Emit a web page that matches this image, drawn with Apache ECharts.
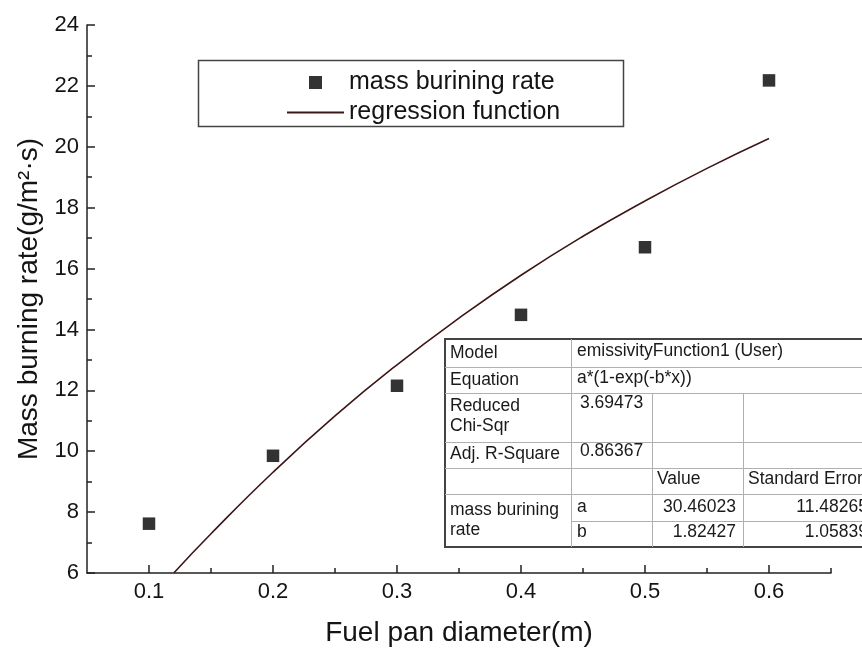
<!DOCTYPE html>
<html>
<head>
<meta charset="utf-8">
<script src="https://cdn.jsdelivr.net/npm/echarts@6/dist/echarts.min.js"></script>
<style>
html,body{margin:0;padding:0;background:#fff;}
#chart{width:862px;height:650px;}
</style>
</head>
<body>
<div id="chart"></div>
<script>
// ---- data ----
const diameters = [0.1, 0.2, 0.3, 0.4, 0.5, 0.6];
const burningRates = [7.62, 9.85, 12.15, 14.48, 16.7, 22.18];
const fitX = [0.12, 0.15, 0.2, 0.25, 0.3, 0.35, 0.4, 0.45, 0.5, 0.55, 0.6];
const fitY = [6.0, 7.29, 9.31, 11.16, 12.84, 14.37, 15.78, 17.06, 18.22, 19.29, 20.27];
const xTickValues = [0.1, 0.2, 0.3, 0.4, 0.5, 0.6];
const xMinorTickValues = [0.15, 0.25, 0.35, 0.45, 0.55, 0.65];
const seriesNames = ['mass burining rate', 'regression function'];
// fit report table text
const tableModel = ['Model', 'emissivityFunction1 (User)'];
const tableEquation = ['Equation', 'a*(1-exp(-b*x))'];
const tableChi = ['Reduced', 'Chi-Sqr', '3.69473'];
const tableR2 = ['Adj. R-Square', '0.86367'];
const tableHeader = ['Value', 'Standard Error'];
const tableParamLabel = ['mass burining', 'rate'];
const tableParams = [['a', '30.46023', '11.48265'], ['b', '1.82427', '1.05839']];

const FONT = '"Liberation Sans", Arial, Helvetica, sans-serif';
const TXT = '#141414';

// ---- table graphic ----
const TL = 445, TR = 880;
const rowsY = [339, 367, 393, 442, 468, 494, 521, 547];
const colsX = [445, 571, 652, 743];
const tf = 17.5;
function txt(t, x, y, align) {
  return { type: 'text', z: 102, style: { text: t, x: x, y: y, fill: '#1a1a1a', fontSize: tf, fontFamily: FONT, align: align || 'left', verticalAlign: 'middle' } };
}
function ln(x1, y1, x2, y2, c, w) {
  return { type: 'line', z: 101, shape: { x1: x1, y1: y1, x2: x2, y2: y2 }, style: { stroke: c || '#b0b0b0', lineWidth: w || 1 } };
}
const tableEls = [];
tableEls.push({ type: 'rect', z: 100, shape: { x: TL, y: rowsY[0], width: TR - TL, height: rowsY[7] - rowsY[0] }, style: { fill: '#fff', stroke: '#444', lineWidth: 2 } });
[1, 2, 3, 4, 5].forEach(function (i) { tableEls.push(ln(TL, rowsY[i] + 0.5, TR, rowsY[i] + 0.5)); });
tableEls.push(ln(colsX[1], rowsY[6] + 0.5, TR, rowsY[6] + 0.5));
tableEls.push(ln(colsX[1] + 0.5, rowsY[0], colsX[1] + 0.5, rowsY[7]));
tableEls.push(ln(colsX[2] + 0.5, rowsY[2], colsX[2] + 0.5, rowsY[7]));
tableEls.push(ln(colsX[3] + 0.5, rowsY[2], colsX[3] + 0.5, rowsY[7]));
tableEls.push(txt(tableModel[0], 450, 353));
tableEls.push(txt(tableModel[1], 577, 351));
tableEls.push(txt(tableEquation[0], 450, 380));
tableEls.push(txt(tableEquation[1], 577, 378));
tableEls.push(txt(tableChi[0], 450, 406));
tableEls.push(txt(tableChi[1], 450, 426));
tableEls.push(txt(tableChi[2], 580, 403));
tableEls.push(txt(tableR2[0], 450, 454));
tableEls.push(txt(tableR2[1], 580, 451));
tableEls.push(txt(tableHeader[0], 657, 479));
tableEls.push(txt(tableHeader[1], 748, 479));
tableEls.push(txt(tableParamLabel[0], 450, 510));
tableEls.push(txt(tableParamLabel[1], 450, 530));
tableEls.push(txt(tableParams[0][0], 577, 507));
tableEls.push(txt(tableParams[0][1], 736, 507, 'right'));
tableEls.push(txt(tableParams[0][2], 868, 507, 'right'));
tableEls.push(txt(tableParams[1][0], 577, 532));
tableEls.push(txt(tableParams[1][1], 736, 532, 'right'));
tableEls.push(txt(tableParams[1][2], 868, 532, 'right'));

// legend frame
const legendFrame = { type: 'rect', z: 50, shape: { x: 198.5, y: 60.5, width: 425, height: 66 }, style: { fill: '#fff', stroke: '#444', lineWidth: 1.5 } };

const chart = echarts.init(document.getElementById('chart'), null, { renderer: 'canvas' });
const option = {
  backgroundColor: '#fff',
  animation: false,
  textStyle: { fontFamily: FONT },
  grid: { left: 87, right: 31, top: 25, bottom: 77, outerBoundsMode: 'none' },
  legend: {
    orient: 'vertical',
    left: 281, top: 65,
    itemWidth: 57, itemHeight: 13, itemGap: 5,
    symbolKeepAspect: true,
    z: 60,
    textStyle: { fontSize: 25, color: TXT, fontFamily: FONT },
    data: [
      { name: seriesNames[0], icon: 'path://M0,0L10,0L10,10L0,10Z', itemStyle: { color: '#000' } },
      { name: seriesNames[1], itemStyle: { opacity: 0 } }
    ]
  },
  xAxis: [{
    type: 'value', min: 0.05, max: 0.65,
    name: 'Fuel pan diameter(m)', nameLocation: 'middle', nameGap: 46,
    nameTextStyle: { fontSize: 28, color: TXT, fontFamily: FONT },
    axisLine: { show: true, onZero: false, lineStyle: { color: '#222', width: 1.5 } },
    axisTick: { show: true, inside: true, length: 8, customValues: xTickValues, lineStyle: { color: '#222', width: 1.5 } },
    axisLabel: { customValues: xTickValues, fontSize: 22, color: TXT, margin: 8, fontFamily: FONT },
    splitLine: { show: false }
  }, {
    type: 'value', min: 0.05, max: 0.65, position: 'bottom',
    axisLine: { show: false },
    axisTick: { show: true, inside: true, length: 5, customValues: xMinorTickValues, lineStyle: { color: '#222', width: 1.5 } },
    axisLabel: { show: false },
    splitLine: { show: false }
  }],
  yAxis: {
    type: 'value', min: 6, max: 24, interval: 2,
    name: 'Mass burning rate(g/m²·s)', nameLocation: 'middle', nameGap: 44,
    nameTextStyle: { fontSize: 28, color: TXT, fontFamily: FONT },
    axisLine: { show: true, onZero: false, lineStyle: { color: '#222', width: 1.5 } },
    axisTick: { show: true, inside: true, length: 8, lineStyle: { color: '#222', width: 1.5 } },
    minorTick: { show: true, splitNumber: 2, length: 5, lineStyle: { color: '#222', width: 1.5 } },
    axisLabel: { fontSize: 22, color: TXT, margin: 8, fontFamily: FONT },
    splitLine: { show: false }
  },
  graphic: { elements: [legendFrame].concat(tableEls) },
  series: [{
    name: seriesNames[0], type: 'scatter', symbol: 'rect', symbolSize: 12.5,
    itemStyle: { color: '#000' }, z: 10,
    data: diameters.map(function (d, i) { return [d, burningRates[i]]; })
  }, {
    name: seriesNames[1], type: 'line', smooth: true, showSymbol: false, symbol: 'none',
    lineStyle: { color: '#3d1616', width: 1.6 }, itemStyle: { color: '#3d1616' }, z: 5,
    data: fitX.map(function (d, i) { return [d, fitY[i]]; })
  }]
};
chart.setOption(option);
</script>
</body>
</html>
